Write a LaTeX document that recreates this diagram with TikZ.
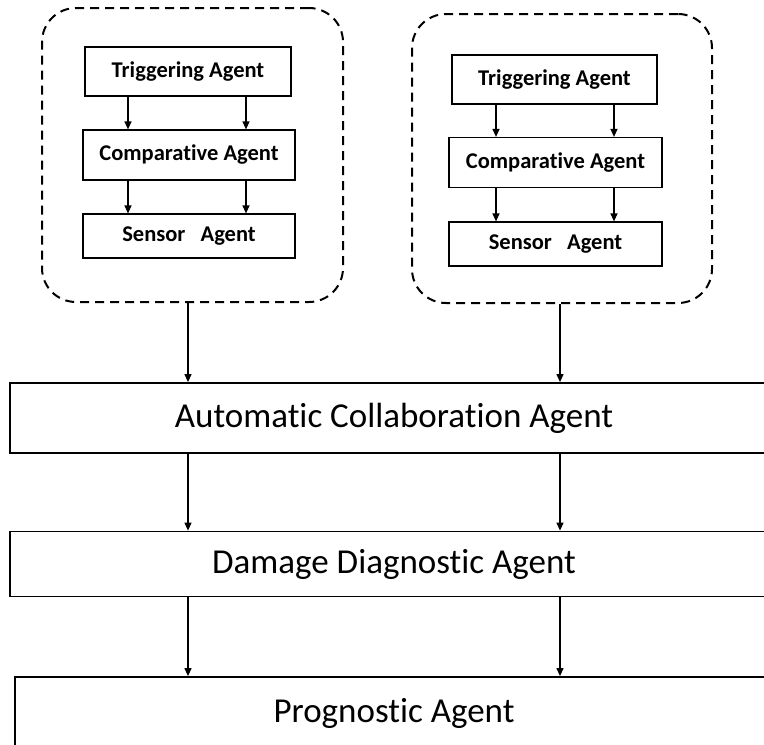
\documentclass[tikz,border=0pt]{standalone}
\usepackage{fontspec}
\setmainfont{Carlito}[Ligatures={NoCommon}]
\usetikzlibrary{arrows.meta}
\begin{document}
\begin{tikzpicture}[x=1pt,y=-1pt,
  smallbox/.style={draw=black, line width=1.2pt, rectangle, inner sep=0pt,
    font=\fontsize{22.5}{26}\selectfont\bfseries},
  bigbox/.style={draw=black, line width=1.8pt, rectangle, inner sep=0pt,
    font=\fontsize{35}{40}\selectfont},
  group/.style={draw=black, line width=2pt, dash pattern=on 9pt off 6pt,
    rounded corners=34pt, rectangle, inner sep=0pt},
  arr/.style={draw=black, line width=1.2pt, -{Triangle[length=8pt,width=7pt]}}
]
\useasboundingbox (0,0) rectangle (764,745);
\clip (0,0) rectangle (764,745);

% dashed groups
\node[group, minimum width=301pt, minimum height=294pt] (d1) at (192.5,155) {};
\node[group, minimum width=300pt, minimum height=289pt] (d2) at (562,158.5) {};

% left group boxes
\node[smallbox, minimum width=206pt, minimum height=49pt] (t1) at (188,71.5) {Triggering Agent};
\node[smallbox, minimum width=212pt, minimum height=50pt] (c1) at (189,155) {Comparative Agent};
\node[smallbox, minimum width=212pt, minimum height=44pt] (s1) at (189,236) {Sensor~~~Agent};

% right group boxes
\node[smallbox, minimum width=205pt, minimum height=49pt] (t2) at (554.5,79.5) {Triggering Agent};
\node[smallbox, minimum width=213pt, minimum height=50pt] (c2) at (555.5,162.5) {Comparative Agent};
\node[smallbox, minimum width=213pt, minimum height=44pt] (s2) at (555.5,244) {Sensor~~~Agent};

% big boxes (their right ends run past the picture's edge)
\node[bigbox, minimum width=768pt, minimum height=70pt] (aca) at (394,418) {Automatic Collaboration Agent};
\node[bigbox, minimum width=768pt, minimum height=65pt] (dda) at (394,564) {Damage Diagnostic Agent};
\node[bigbox, minimum width=758pt, minimum height=72pt] (pa) at (394,713) {Prognostic Agent};

% x positions of connectors
\coordinate (la) at (128,0);
\coordinate (lb) at (246,0);
\coordinate (ra) at (496,0);
\coordinate (rb) at (614,0);
\coordinate (L) at (188,0);
\coordinate (R) at (560,0);

% inner arrows
\draw[arr] (t1.south -| la) -- (c1.north -| la);
\draw[arr] (t1.south -| lb) -- (c1.north -| lb);
\draw[arr] (c1.south -| la) -- (s1.north -| la);
\draw[arr] (c1.south -| lb) -- (s1.north -| lb);
\draw[arr] (t2.south -| ra) -- (c2.north -| ra);
\draw[arr] (t2.south -| rb) -- (c2.north -| rb);
\draw[arr] (c2.south -| ra) -- (s2.north -| ra);
\draw[arr] (c2.south -| rb) -- (s2.north -| rb);

% group to big boxes
\draw[arr] (d1.south -| L) -- (aca.north -| L);
\draw[arr] (d2.south -| R) -- (aca.north -| R);
\draw[arr] (aca.south -| L) -- (dda.north -| L);
\draw[arr] (aca.south -| R) -- (dda.north -| R);
\draw[arr] (dda.south -| L) -- (pa.north -| L);
\draw[arr] (dda.south -| R) -- (pa.north -| R);
\end{tikzpicture}
\end{document}
